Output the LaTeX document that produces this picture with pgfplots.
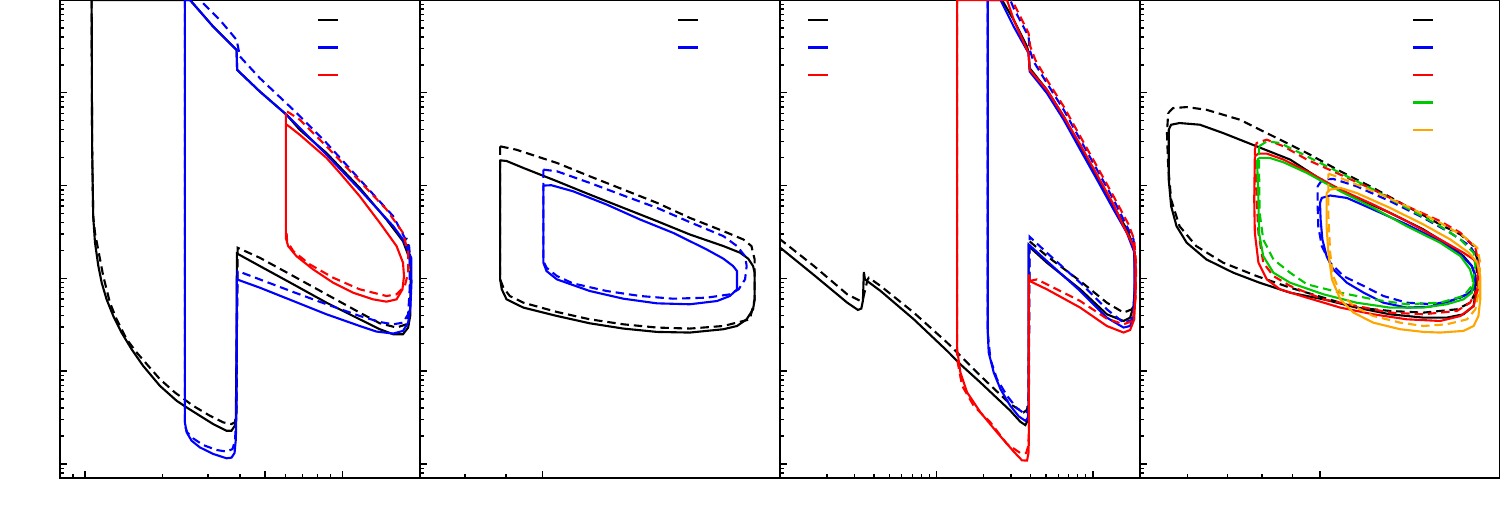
\documentclass[border=0pt]{standalone}
\usepackage{pgfplots}
\pgfplotsset{compat=1.18}
\definecolor{cgreen}{RGB}{0,200,0}
\definecolor{corange}{RGB}{255,165,0}
\tikzset{sl/.style={line width=0.6pt}, dl/.style={line width=0.6pt, dash pattern=on 2.4pt off 1.4pt}}
\pgfplotsset{/pgfplots/table/T/.style={/pgfplots/table/x expr=10^(\thisrowno{0}), /pgfplots/table/y expr=10^(\thisrowno{1}), /pgfplots/table/row sep=\\}}
\begin{document}
\begin{tikzpicture}
\useasboundingbox (0,0) rectangle (15cm,5.25cm);
% ---------------- Panel 1
\begin{axis}[scale only axis, width=3.6cm, height=4.78cm, xmode=log, ymode=log, ymin=0.706, ymax=100000,
  axis line style={line width=0.6pt}, tick align=inside, xtick pos=bottom, ytick pos=left,
  xticklabels={}, yticklabels={}, ytick={1,10,100,1000,10000,100000},
  minor ytick={0.8,0.9,2,3,4,5,6,7,8,9,20,30,40,50,60,70,80,90,200,300,400,500,600,700,800,900,2000,3000,4000,5000,6000,7000,8000,9000,20000,30000,40000,50000,60000,70000,80000,90000},
  major tick length=2pt, minor tick length=1.1pt, every tick/.style={black, line width=0.4pt},
  anchor=south west, at={(0.6cm,0.47cm)}, xmin=0.8, xmax=20,
  xtick={1,5,10}, minor xtick={0.9,2,3,4,6,7,8,9},
  legend image code/.code={\draw[#1, line width=0.6pt, solid] (0cm,0cm) -- (0.2cm,0cm);},
  legend style={draw=none, fill=none, inner sep=0pt, outer sep=0pt, row sep=0pt, nodes={inner sep=0pt, outer sep=0pt, minimum height=0.275cm, anchor=center}, at={(0.714,0.987)}, anchor=north west}]
\addplot[sl, black, no markers] table[T] {lx ly\\
0.026 5.000\\ 0.027 4.000\\ 0.028 3.387\\ 0.032 2.670\\ 0.039 2.384\\ 0.052 2.133\\ 0.065 1.953\\ 0.084 1.774\\ 0.110 1.595\\ 0.142 1.416\\ 0.181 1.237\\ 0.226 1.057\\ 0.291 0.842\\ 0.356 0.681\\ 0.395 0.609\\ 0.446 0.520\\ 0.498 0.430\\ 0.550 0.358\\ 0.569 0.358\\ 0.582 0.412\\ 0.586 0.484\\ 0.589 1.416\\ 0.590 2.269\\ 0.679 2.133\\ 0.809 1.936\\ 0.938 1.738\\ 1.067 1.559\\ 1.145 1.452\\ 1.197 1.398\\ 1.235 1.398\\ 1.255 1.470\\ 1.263 1.595\\ 1.265 1.953\\ 1.264 2.186\\ 1.235 2.401\\ 1.171 2.634\\ 1.067 2.975\\ 0.938 3.351\\ 0.834 3.602\\ 0.783 3.763\\ 0.679 4.014\\ 0.591 4.247\\ 0.589 4.462\\ 0.498 4.713\\ 0.408 5.000\\ 0.026 5.000\\
};
\addlegendentry{\mbox{}}
\addplot[dl, black, no markers, forget plot] table[T] {lx ly\\
0.026 5.000\\ 0.027 4.000\\ 0.028 3.387\\ 0.032 2.670\\ 0.039 2.491\\ 0.071 2.025\\ 0.097 1.738\\ 0.123 1.559\\ 0.162 1.344\\ 0.201 1.201\\ 0.246 1.057\\ 0.291 0.914\\ 0.349 0.771\\ 0.420 0.627\\ 0.485 0.520\\ 0.537 0.448\\ 0.569 0.430\\ 0.582 0.448\\ 0.589 0.556\\ 0.590 1.416\\ 0.593 2.330\\ 0.679 2.222\\ 0.809 2.025\\ 0.938 1.828\\ 1.067 1.631\\ 1.145 1.516\\ 1.210 1.470\\ 1.248 1.505\\ 1.261 1.667\\ 1.264 1.953\\ 1.261 2.276\\ 1.248 2.437\\
};
\addplot[sl, blue, no markers] table[T] {lx ly\\
0.388 5.000\\ 0.388 0.448\\ 0.395 0.341\\ 0.414 0.251\\ 0.446 0.179\\ 0.498 0.108\\ 0.550 0.061\\ 0.569 0.068\\ 0.581 0.118\\ 0.586 0.269\\ 0.589 0.699\\ 0.590 1.989\\ 0.679 1.900\\ 0.809 1.756\\ 0.938 1.613\\ 1.067 1.487\\ 1.132 1.427\\ 1.197 1.405\\ 1.235 1.434\\ 1.255 1.523\\ 1.264 1.703\\ 1.268 1.953\\ 1.267 2.222\\ 1.235 2.419\\ 1.197 2.563\\ 1.067 2.957\\ 0.938 3.333\\ 0.783 3.763\\ 0.679 4.014\\ 0.591 4.247\\ 0.589 4.462\\ 0.498 4.713\\ 0.408 5.000\\ 0.388 5.000\\
};
\addlegendentry{\mbox{}}
\addplot[dl, blue, no markers, forget plot] table[T] {lx ly\\
0.388 5.000\\ 0.388 0.412\\ 0.397 0.341\\ 0.420 0.276\\ 0.459 0.204\\ 0.511 0.151\\ 0.550 0.133\\ 0.573 0.161\\ 0.583 0.251\\ 0.587 0.520\\ 0.590 1.416\\ 0.593 2.079\\ 0.679 1.989\\ 0.809 1.853\\ 0.938 1.721\\ 1.067 1.595\\ 1.145 1.530\\ 1.197 1.505\\ 1.235 1.523\\ 1.255 1.613\\ 1.261 1.882\\ 1.261 2.169\\ 1.259 2.348\\ 1.197 2.670\\ 1.067 3.065\\ 0.938 3.459\\ 0.809 3.817\\ 0.679 4.158\\ 0.602 4.391\\ 0.589 4.570\\ 0.524 4.785\\ 0.446 5.000\\
};
\addplot[sl, red, no markers] table[T] {lx ly\\
0.780 3.781\\ 0.780 2.437\\ 0.789 2.348\\ 0.821 2.240\\ 0.886 2.097\\ 0.964 1.953\\ 1.041 1.846\\ 1.119 1.774\\ 1.171 1.749\\ 1.210 1.774\\ 1.233 1.882\\ 1.239 2.025\\ 1.235 2.169\\ 1.210 2.348\\ 1.145 2.599\\ 1.067 2.885\\ 0.990 3.136\\ 0.938 3.298\\ 0.886 3.423\\ 0.834 3.548\\ 0.796 3.631\\ 0.783 3.656\\
};
\addlegendentry{\mbox{}}
\addplot[dl, red, no markers, forget plot] table[T] {lx ly\\
0.785 3.799\\ 0.834 3.710\\ 0.938 3.423\\ 1.067 3.047\\ 1.171 2.742\\ 1.235 2.491\\ 1.255 2.276\\ 1.255 2.061\\ 1.242 1.918\\ 1.210 1.828\\ 1.171 1.810\\ 1.067 1.882\\ 0.964 2.007\\ 0.873 2.151\\ 0.809 2.294\\ 0.785 2.401\\ 0.783 2.491\\
};
\end{axis}
% ---------------- Panel 2
\begin{axis}[scale only axis, width=3.6cm, height=4.78cm, xmode=log, ymode=log, ymin=0.706, ymax=100000,
  axis line style={line width=0.6pt}, tick align=inside, xtick pos=bottom, ytick pos=left,
  xticklabels={}, yticklabels={}, ytick={1,10,100,1000,10000,100000},
  minor ytick={0.8,0.9,2,3,4,5,6,7,8,9,20,30,40,50,60,70,80,90,200,300,400,500,600,700,800,900,2000,3000,4000,5000,6000,7000,8000,9000,20000,30000,40000,50000,60000,70000,80000,90000},
  major tick length=2pt, minor tick length=1.1pt, every tick/.style={black, line width=0.4pt},
  anchor=south west, at={(4.2cm,0.47cm)}, xmin=0.703, xmax=1.98,
  xtick={1}, minor xtick={0.8,0.9},
  legend image code/.code={\draw[#1, line width=0.6pt, solid] (0cm,0cm) -- (0.2cm,0cm);},
  legend style={draw=none, fill=none, inner sep=0pt, outer sep=0pt, row sep=0pt, nodes={inner sep=0pt, outer sep=0pt, minimum height=0.275cm, anchor=center}, at={(0.714,0.987)}, anchor=north west}]
\addplot[sl, black, no markers] table[T] {lx ly\\
-0.053 3.272\\ -0.045 3.265\\ -0.024 3.190\\ 0.018 3.047\\ 0.059 2.903\\ 0.101 2.760\\ 0.143 2.617\\ 0.184 2.473\\ 0.226 2.348\\ 0.247 2.276\\ 0.257 2.212\\ 0.263 2.133\\ 0.265 2.061\\ 0.265 1.774\\ 0.263 1.667\\ 0.255 1.559\\ 0.243 1.487\\ 0.226 1.452\\ 0.184 1.416\\ 0.143 1.423\\ 0.101 1.459\\ 0.059 1.516\\ 0.018 1.595\\ -0.024 1.685\\ -0.045 1.774\\ -0.051 1.882\\ -0.053 1.989\\ -0.053 3.272\\
};
\addlegendentry{\mbox{}}
\addplot[dl, black, no markers, forget plot] table[T] {lx ly\\
-0.053 3.423\\ -0.033 3.387\\ 0.018 3.244\\ 0.059 3.100\\ 0.101 2.957\\ 0.143 2.814\\ 0.184 2.652\\ 0.226 2.509\\ 0.251 2.419\\ 0.261 2.348\\ 0.265 2.204\\ 0.265 1.774\\ 0.259 1.559\\ 0.251 1.541\\ 0.226 1.487\\ 0.184 1.459\\ 0.143 1.470\\ 0.101 1.505\\ 0.059 1.559\\ 0.018 1.638\\ -0.024 1.738\\ -0.041 1.810\\ -0.049 1.900\\ -0.053 1.989\\ -0.053 3.423\\
};
\addplot[sl, blue, no markers] table[T] {lx ly\\
0.001 3.000\\ 0.011 3.004\\ 0.038 2.939\\ 0.080 2.796\\ 0.122 2.634\\ 0.163 2.491\\ 0.205 2.312\\ 0.226 2.212\\ 0.238 2.133\\ 0.243 2.079\\ 0.243 1.882\\ 0.234 1.810\\ 0.218 1.756\\ 0.184 1.721\\ 0.143 1.731\\ 0.101 1.781\\ 0.059 1.864\\ 0.018 1.989\\ 0.005 2.079\\ 0.001 2.169\\ 0.001 3.000\\
};
\addlegendentry{\mbox{}}
\addplot[dl, blue, no markers, forget plot] table[T] {lx ly\\
0.001 3.172\\ 0.018 3.154\\ 0.059 3.029\\ 0.101 2.893\\ 0.143 2.760\\ 0.184 2.606\\ 0.226 2.455\\ 0.243 2.348\\ 0.253 2.240\\ 0.255 2.133\\ 0.253 1.989\\ 0.245 1.882\\ 0.234 1.828\\ 0.205 1.792\\ 0.163 1.781\\ 0.122 1.810\\ 0.080 1.864\\ 0.038 1.946\\ 0.018 2.025\\ 0.005 2.115\\ 0.001 2.186\\ 0.001 3.172\\
};
\end{axis}
% ---------------- Panel 3
\begin{axis}[scale only axis, width=3.6cm, height=4.78cm, xmode=log, ymode=log, ymin=0.706, ymax=100000,
  axis line style={line width=0.6pt}, tick align=inside, xtick pos=bottom, ytick pos=left,
  xticklabels={}, yticklabels={}, ytick={1,10,100,1000,10000,100000},
  minor ytick={0.8,0.9,2,3,4,5,6,7,8,9,20,30,40,50,60,70,80,90,200,300,400,500,600,700,800,900,2000,3000,4000,5000,6000,7000,8000,9000,20000,30000,40000,50000,60000,70000,80000,90000},
  major tick length=2pt, minor tick length=1.1pt, every tick/.style={black, line width=0.4pt},
  anchor=south west, at={(7.8cm,0.47cm)}, xmin=0.1, xmax=20,
  xtick={1,10}, minor xtick={0.2,0.3,0.4,0.5,0.6,0.7,0.8,0.9,2,3,4,5,6,7,8,9},
  legend image code/.code={\draw[#1, line width=0.6pt, solid] (0cm,0cm) -- (0.2cm,0cm);},
  legend style={draw=none, fill=none, inner sep=0pt, outer sep=0pt, row sep=0pt, nodes={inner sep=0pt, outer sep=0pt, minimum height=0.275cm, anchor=center}, at={(0.075,0.987)}, anchor=north west}]
\addplot[sl, black, no markers] table[T] {lx ly\\
-1.006 2.341\\ -0.783 2.036\\ -0.570 1.738\\ -0.502 1.660\\ -0.480 1.675\\ -0.470 1.760\\ -0.464 2.068\\ -0.457 1.989\\ -0.357 1.864\\ -0.145 1.559\\ 0.068 1.219\\ 0.164 1.057\\ 0.281 0.878\\ 0.472 0.574\\ 0.536 0.455\\ 0.568 0.419\\ 0.583 0.466\\ 0.589 0.556\\ 0.589 2.348\\ 0.706 2.169\\ 0.919 1.882\\ 1.089 1.613\\ 1.196 1.541\\ 1.238 1.577\\ 1.260 1.703\\ 1.270 1.953\\ 1.266 2.240\\ 1.260 2.348\\ 1.217 2.527\\ 1.132 2.778\\ 1.026 3.100\\ 0.919 3.423\\ 0.813 3.746\\ 0.706 4.032\\ 0.596 4.265\\ 0.589 4.427\\ 0.579 4.498\\ 0.494 4.785\\ 0.419 5.000\\
};
\addlegendentry{\mbox{}}
\addplot[dl, black, no markers, forget plot] table[T] {lx ly\\
-1.006 2.430\\ -0.783 2.133\\ -0.570 1.828\\ -0.485 1.756\\ -0.470 1.774\\ -0.440 1.989\\ -0.432 2.007\\ -0.357 1.918\\ -0.145 1.631\\ 0.068 1.308\\ 0.281 0.950\\ 0.472 0.645\\ 0.557 0.556\\ 0.579 0.584\\ 0.589 0.699\\ 0.594 2.401\\ 0.706 2.240\\ 0.919 1.971\\ 1.089 1.738\\ 1.196 1.631\\ 1.249 1.667\\ 1.266 1.774\\ 1.272 2.061\\ 1.260 2.419\\
};
\addplot[sl, blue, no markers] table[T] {lx ly\\
0.328 5.000\\ 0.328 1.416\\ 0.334 1.201\\ 0.366 0.986\\ 0.409 0.807\\ 0.472 0.627\\ 0.526 0.513\\ 0.568 0.466\\ 0.583 0.491\\ 0.589 0.556\\ 0.589 2.366\\ 0.706 2.186\\ 0.919 1.864\\ 1.089 1.577\\ 1.196 1.470\\ 1.238 1.487\\ 1.260 1.595\\ 1.266 1.846\\ 1.266 2.276\\ 1.217 2.491\\ 1.132 2.742\\ 1.026 3.065\\ 0.919 3.387\\ 0.813 3.710\\ 0.706 3.996\\ 0.596 4.229\\ 0.589 4.427\\ 0.494 4.713\\ 0.409 5.000\\ 0.328 5.000\\
};
\addlegendentry{\mbox{}}
\addplot[dl, blue, no markers, forget plot] table[T] {lx ly\\
0.328 5.000\\ 0.328 1.416\\ 0.345 1.129\\ 0.387 0.914\\ 0.451 0.735\\ 0.515 0.599\\ 0.568 0.538\\ 0.587 0.574\\ 0.591 0.771\\ 0.596 2.448\\ 0.706 2.276\\ 0.919 1.953\\ 1.089 1.667\\ 1.196 1.523\\ 1.249 1.552\\ 1.270 1.774\\ 1.272 2.133\\ 1.260 2.419\\ 1.217 2.563\\ 1.132 2.849\\ 1.026 3.172\\ 0.919 3.495\\ 0.813 3.817\\ 0.706 4.104\\ 0.621 4.337\\ 0.596 4.462\\ 0.589 4.606\\ 0.494 4.910\\ 0.472 5.000\\
};
\addplot[sl, red, no markers] table[T] {lx ly\\
0.132 5.000\\ 0.132 1.237\\ 0.153 0.986\\ 0.196 0.771\\ 0.281 0.556\\ 0.387 0.341\\ 0.494 0.133\\ 0.547 0.039\\ 0.579 0.036\\ 0.589 0.125\\ 0.591 0.341\\ 0.591 2.043\\ 0.596 1.971\\ 0.706 1.882\\ 0.919 1.685\\ 1.089 1.487\\ 1.196 1.416\\ 1.238 1.444\\ 1.264 1.559\\ 1.272 1.846\\ 1.272 2.204\\ 1.260 2.348\\ 1.196 2.563\\ 1.132 2.796\\ 1.026 3.118\\ 0.919 3.441\\ 0.813 3.746\\ 0.706 4.032\\ 0.596 4.247\\ 0.589 4.427\\ 0.494 4.785\\ 0.451 5.000\\ 0.132 5.000\\
};
\addlegendentry{\mbox{}}
\addplot[dl, red, no markers, forget plot] table[T] {lx ly\\
0.132 5.000\\ 0.132 1.129\\ 0.164 0.843\\ 0.238 0.627\\ 0.345 0.448\\ 0.451 0.215\\ 0.536 0.118\\ 0.574 0.118\\ 0.587 0.197\\ 0.591 0.341\\ 0.591 1.971\\ 0.643 1.989\\ 0.706 1.936\\ 0.919 1.756\\ 1.089 1.566\\ 1.196 1.505\\ 1.255 1.541\\ 1.272 1.774\\ 1.277 2.133\\ 1.264 2.419\\ 1.228 2.581\\ 1.132 2.885\\ 1.026 3.208\\ 0.919 3.530\\ 0.813 3.853\\ 0.706 4.140\\ 0.632 4.355\\ 0.600 4.498\\ 0.589 4.642\\ 0.504 4.928\\ 0.483 5.000\\
};
\end{axis}
% ---------------- Panel 4
\begin{axis}[scale only axis, width=3.6cm, height=4.78cm, xmode=log, ymode=log, ymin=0.706, ymax=100000,
  axis line style={line width=0.6pt}, tick align=inside, xtick pos=bottom, ytick pos=left,
  xticklabels={}, yticklabels={}, ytick={1,10,100,1000,10000,100000},
  minor ytick={0.8,0.9,2,3,4,5,6,7,8,9,20,30,40,50,60,70,80,90,200,300,400,500,600,700,800,900,2000,3000,4000,5000,6000,7000,8000,9000,20000,30000,40000,50000,60000,70000,80000,90000},
  major tick length=2pt, minor tick length=1.1pt, every tick/.style={black, line width=0.4pt},
  anchor=south west, at={(11.4cm,0.47cm)}, xmin=0.5, xmax=2,
  xtick={1}, minor xtick={0.6,0.7,0.8,0.9},
  legend image code/.code={\draw[#1, line width=0.6pt, solid] (0cm,0cm) -- (0.2cm,0cm);},
  legend style={draw=none, fill=none, inner sep=0pt, outer sep=0pt, row sep=0pt, nodes={inner sep=0pt, outer sep=0pt, minimum height=0.275cm, anchor=center}, at={(0.756,0.987)}, anchor=north west}]
\addplot[sl, black, no markers] table[T] {lx ly\\
-0.253 3.602\\ -0.253 3.065\\ -0.249 2.778\\ -0.240 2.563\\ -0.223 2.384\\ -0.190 2.204\\ -0.145 2.061\\ -0.101 1.953\\ -0.050 1.846\\ 0.006 1.774\\ 0.061 1.685\\ 0.117 1.613\\ 0.173 1.577\\ 0.212 1.577\\ 0.240 1.613\\ 0.257 1.703\\ 0.260 1.846\\ 0.260 2.025\\ 0.254 2.133\\ 0.240 2.240\\ 0.218 2.348\\ 0.173 2.527\\ 0.117 2.706\\ 0.061 2.867\\ 0.006 3.047\\ -0.050 3.280\\ -0.106 3.423\\ -0.162 3.566\\ -0.201 3.656\\ -0.235 3.674\\ -0.249 3.656\\ -0.253 3.602\\
};
\addlegendentry{\mbox{}}
\addplot[dl, black, no markers, forget plot] table[T] {lx ly\\
-0.254 3.781\\ -0.246 3.835\\ -0.223 3.846\\ -0.190 3.817\\ -0.134 3.710\\ -0.078 3.530\\ -0.022 3.351\\ 0.034 3.154\\ 0.089 2.975\\ 0.145 2.778\\ 0.201 2.581\\ 0.235 2.473\\ 0.257 2.348\\ 0.263 2.204\\ 0.261 1.953\\ 0.260 1.846\\ 0.251 1.738\\ 0.229 1.667\\ 0.173 1.631\\ 0.117 1.649\\ 0.061 1.685\\ 0.006 1.792\\ -0.050 1.900\\ -0.106 2.025\\ -0.162 2.169\\ -0.207 2.348\\ -0.235 2.563\\ -0.249 2.849\\ -0.254 3.208\\ -0.256 3.566\\ -0.254 3.781\\
};
\addplot[sl, blue, no markers] table[T] {lx ly\\
0.000 2.814\\ 0.003 2.867\\ 0.017 2.893\\ 0.045 2.867\\ 0.089 2.742\\ 0.145 2.581\\ 0.201 2.401\\ 0.235 2.258\\ 0.254 2.133\\ 0.260 2.025\\ 0.257 1.882\\ 0.246 1.828\\ 0.218 1.756\\ 0.184 1.695\\ 0.145 1.685\\ 0.106 1.738\\ 0.073 1.846\\ 0.045 1.953\\ 0.022 2.097\\ 0.011 2.240\\ 0.004 2.419\\ 0.001 2.634\\ 0.000 2.814\\
};
\addlegendentry{\mbox{}}
\addplot[dl, blue, no markers, forget plot] table[T] {lx ly\\
-0.004 2.993\\ 0.004 3.065\\ 0.022 3.072\\ 0.061 2.993\\ 0.117 2.832\\ 0.173 2.652\\ 0.218 2.491\\ 0.251 2.348\\ 0.265 2.204\\ 0.264 1.989\\ 0.251 1.846\\ 0.229 1.774\\ 0.190 1.721\\ 0.145 1.738\\ 0.106 1.810\\ 0.073 1.918\\ 0.039 2.025\\ 0.017 2.169\\ 0.003 2.348\\ -0.003 2.563\\ -0.004 2.778\\ -0.004 2.993\\
};
\addplot[sl, red, no markers] table[T] {lx ly\\
-0.109 3.315\\ -0.110 2.849\\ -0.109 2.491\\ -0.103 2.169\\ -0.089 1.989\\ -0.067 1.882\\ -0.022 1.792\\ 0.034 1.685\\ 0.089 1.613\\ 0.145 1.559\\ 0.201 1.541\\ 0.235 1.595\\ 0.257 1.703\\ 0.264 1.882\\ 0.264 2.133\\ 0.257 2.204\\ 0.240 2.276\\ 0.201 2.419\\ 0.145 2.617\\ 0.089 2.796\\ 0.034 2.957\\ -0.022 3.154\\ -0.061 3.280\\ -0.089 3.344\\ -0.103 3.344\\ -0.109 3.315\\
};
\addlegendentry{\mbox{}}
\addplot[dl, red, no markers, forget plot] table[T] {lx ly\\
-0.109 3.387\\ -0.106 3.459\\ -0.089 3.495\\ -0.061 3.423\\ -0.022 3.280\\ 0.034 3.118\\ 0.089 2.957\\ 0.145 2.778\\ 0.201 2.617\\ 0.235 2.491\\ 0.260 2.330\\ 0.265 2.169\\ 0.263 1.882\\ 0.251 1.738\\ 0.229 1.649\\ 0.173 1.613\\ 0.117 1.631\\ 0.061 1.703\\ 0.006 1.774\\ -0.050 1.918\\ -0.078 2.025\\ -0.095 2.169\\ -0.103 2.491\\ -0.106 2.849\\ -0.109 3.387\\
};
\addplot[sl, cgreen, no markers] table[T] {lx ly\\
-0.105 3.280\\ -0.101 3.298\\ -0.084 3.298\\ -0.061 3.251\\ -0.022 3.136\\ 0.034 2.939\\ 0.089 2.760\\ 0.145 2.563\\ 0.201 2.384\\ 0.235 2.240\\ 0.251 2.097\\ 0.257 1.953\\ 0.254 1.846\\ 0.240 1.774\\ 0.212 1.721\\ 0.173 1.685\\ 0.117 1.685\\ 0.061 1.738\\ 0.006 1.828\\ -0.050 1.953\\ -0.078 2.061\\ -0.095 2.240\\ -0.102 2.491\\ -0.103 2.849\\ -0.105 3.208\\ -0.105 3.280\\
};
\addlegendentry{\mbox{}}
\addplot[dl, cgreen, no markers, forget plot] table[T] {lx ly\\
-0.102 3.423\\ -0.089 3.477\\ -0.067 3.459\\ -0.022 3.315\\ 0.034 3.136\\ 0.089 2.957\\ 0.145 2.760\\ 0.201 2.563\\ 0.235 2.419\\ 0.257 2.276\\ 0.260 2.133\\ 0.254 1.918\\ 0.240 1.810\\ 0.201 1.738\\ 0.145 1.721\\ 0.089 1.774\\ 0.034 1.846\\ -0.022 1.936\\ -0.050 2.061\\ -0.078 2.204\\ -0.095 2.419\\ -0.101 2.706\\ -0.102 3.208\\ -0.102 3.423\\
};
\addplot[sl, corange, no markers] table[T] {lx ly\\
0.011 2.921\\ 0.017 2.957\\ 0.034 2.975\\ 0.061 2.921\\ 0.117 2.760\\ 0.173 2.581\\ 0.218 2.419\\ 0.249 2.276\\ 0.263 2.169\\ 0.268 2.025\\ 0.268 1.774\\ 0.265 1.595\\ 0.257 1.487\\ 0.240 1.434\\ 0.201 1.416\\ 0.173 1.423\\ 0.134 1.452\\ 0.089 1.523\\ 0.056 1.631\\ 0.034 1.774\\ 0.020 1.989\\ 0.014 2.276\\ 0.011 2.563\\ 0.011 2.921\\
};
\addlegendentry{\mbox{}}
\addplot[dl, corange, no markers, forget plot] table[T] {lx ly\\
0.014 3.129\\ 0.034 3.082\\ 0.089 2.939\\ 0.145 2.778\\ 0.201 2.599\\ 0.240 2.455\\ 0.263 2.330\\ 0.268 2.169\\ 0.265 1.846\\ 0.260 1.667\\ 0.246 1.559\\ 0.212 1.505\\ 0.173 1.487\\ 0.134 1.523\\ 0.089 1.595\\ 0.056 1.703\\ 0.034 1.846\\ 0.022 2.025\\ 0.017 2.276\\ 0.014 2.670\\ 0.014 3.129\\
};
\end{axis}
\end{tikzpicture}
\end{document}
